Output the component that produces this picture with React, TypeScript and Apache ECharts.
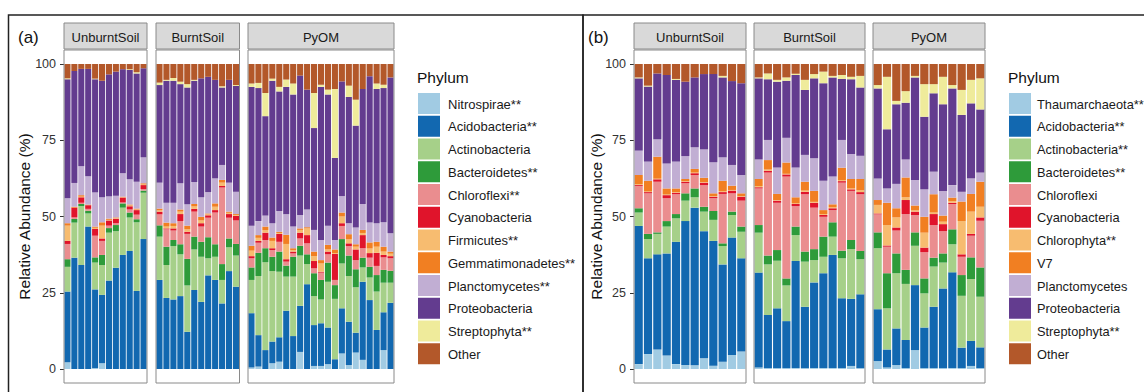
import React, { useEffect, useRef } from "react";
import * as echarts from "echarts";

// ---------- names ----------
const phylaA = [
  "Nitrospirae**", "Acidobacteria**", "Actinobacteria", "Bacteroidetes**", "Chloroflexi**", "Cyanobacteria",
  "Firmicutes**", "Gemmatimonadetes**", "Planctomycetes**", "Proteobacteria", "Streptophyta**", "Other",
];
const phylaB = [
  "Thaumarchaeota**", "Acidobacteria**", "Actinobacteria**", "Bacteroidetes**", "Chloroflexi", "Cyanobacteria",
  "Chlorophyta**", "V7", "Planctomycetes", "Proteobacteria", "Streptophyta**", "Other",
];
const facetNames = ["UnburntSoil", "BurntSoil", "PyOM"];
const yTicks = [0, 25, 50, 75, 100];

// ---------- data: one row per sample (bar), values in phylum order ----------
const aUnburnt = [
  [2.2, 23.2, 8.1, 2.5, 5.0, 1.0, 5.0, 0.8, 8.2, 39.0, 0.3, 4.7],
  [0, 36.5, 11.5, 1.2, 0.5, 3.2, 0, 0.3, 7.8, 36.7, 0, 2.3],
  [0, 34.1, 19.3, 0.7, 0.4, 1.8, 0.2, 0.5, 9.5, 31.9, 0, 1.6],
  [0, 46.7, 4.3, 0.9, 0.6, 1.2, 0, 0.2, 9.3, 35.2, 0, 1.6],
  [0.3, 25.8, 8.8, 1.7, 7.1, 2.2, 0.4, 0.4, 11.2, 37.1, 0.2, 4.8],
  [1.9, 22.4, 9.8, 3.3, 4.6, 0.8, 4.2, 1.1, 8.2, 38.2, 0, 5.5],
  [0, 29.0, 15.7, 1.5, 0.8, 1.7, 0.2, 0.4, 7.3, 40.0, 0, 3.4],
  [0, 33.2, 12.0, 2.0, 0.6, 1.5, 0.2, 0.2, 7.1, 40.7, 0, 2.5],
  [0, 37.4, 15.5, 1.4, 0.3, 1.6, 0.1, 0.2, 7.7, 34.1, 0, 1.7],
  [0, 38.7, 11.0, 1.6, 1.0, 1.1, 0.2, 0.3, 8.3, 35.8, 0.3, 1.7],
  [0, 25.6, 22.5, 1.0, 1.5, 1.5, 0.2, 0.3, 8.8, 35.5, 0.4, 2.7],
  [0, 42.6, 15.2, 0.7, 0.5, 1.3, 0.2, 0.4, 8.5, 29.2, 0, 1.4],
];
const aBurnt = [
  [0, 29.2, 14.2, 3.7, 3.6, 0.9, 0.4, 0.6, 8.5, 32.0, 0.8, 6.1],
  [0, 23.3, 10.8, 6.0, 5.7, 0.3, 0.6, 1.3, 6.5, 40.0, 0.3, 5.2],
  [0, 22.8, 17.5, 2.0, 3.1, 0.7, 0.8, 0.9, 6.7, 40.0, 0.9, 4.6],
  [0, 23.9, 13.7, 3.3, 7.6, 2.3, 0.8, 0.7, 8.6, 32.5, 0.8, 5.8],
  [0, 12.2, 15.2, 8.7, 8.2, 0.7, 0.8, 1.2, 7.0, 38.3, 1.1, 6.6],
  [0, 25.9, 13.3, 4.2, 8.2, 0.9, 0.8, 0.8, 7.2, 33.2, 0.3, 5.2],
  [0, 22.0, 14.8, 4.9, 5.0, 1.1, 0.9, 1.2, 6.4, 39.0, 0, 4.7],
  [0, 30.7, 5.6, 6.9, 6.4, 0.8, 0.3, 0.3, 7.0, 37.8, 0, 4.2],
  [0, 29.2, 7.6, 4.1, 10.4, 0.8, 1.1, 1.1, 8.2, 32.3, 0, 5.2],
  [0, 21.5, 7.7, 5.2, 25.1, 0.5, 1.1, 0.9, 4.9, 25.4, 0.4, 7.3],
  [0, 32.1, 7.8, 2.9, 6.8, 1.2, 0.4, 0.4, 9.5, 33.7, 0, 5.2],
  [0, 27.0, 10.2, 3.8, 7.7, 1.5, 0.3, 0.3, 7.3, 34.7, 0.3, 6.9],
];
const aPyOM = [
  [0.5, 17.8, 10.9, 4.1, 3.0, 0.7, 1.8, 1.6, 6.6, 45.5, 1.1, 6.4],
  [0.8, 10.3, 19.4, 7.6, 3.3, 0.6, 1.0, 0.9, 4.6, 43.6, 1.7, 6.2],
  [0, 6.2, 28.8, 4.6, 2.7, 2.4, 0.8, 1.2, 3.6, 32.6, 7.6, 9.5],
  [1.9, 7.1, 23.1, 4.7, 2.2, 0.6, 2.4, 1.1, 4.7, 46.7, 0.7, 4.8],
  [2.4, 8.0, 21.5, 6.6, 3.2, 2.6, 0.3, 0.4, 6.8, 39.2, 1.5, 7.5],
  [0, 19.1, 11.2, 3.6, 1.3, 0.8, 5.0, 3.0, 6.7, 41.8, 2.4, 5.1],
  [0, 10.8, 19.5, 6.5, 1.1, 0.6, 0.5, 0.6, 7.1, 43.3, 3.6, 6.4],
  [5.6, 15.1, 16.5, 3.2, 2.4, 1.9, 0.9, 0.5, 4.4, 45.7, 0, 3.8],
  [0, 27.8, 6.6, 3.2, 3.6, 2.7, 2.2, 0.4, 5.8, 39.3, 0, 8.4],
  [1.0, 13.4, 9.5, 7.5, 1.6, 2.4, 1.6, 1.5, 7.1, 33.4, 11.5, 9.5],
  [1.0, 14.0, 7.8, 6.4, 2.4, 0.3, 2.7, 1.1, 6.6, 50.2, 0.7, 6.8],
  [1.6, 12.0, 15.0, 6.3, 2.7, 0.9, 0.7, 1.5, 6.3, 43.0, 1.6, 8.4],
  [0, 3.2, 19.8, 4.5, 1.7, 8.5, 0.3, 1.2, 3.1, 26.9, 22.6, 8.2],
  [5.1, 14.8, 14.7, 8.0, 4.3, 0.9, 2.2, 1.3, 5.4, 37.6, 0, 5.7],
  [1.3, 14.2, 15.0, 6.7, 3.1, 0.9, 1.3, 1.7, 3.6, 41.4, 3.7, 7.1],
  [5.4, 6.5, 14.9, 5.9, 3.0, 3.5, 0.9, 0.8, 5.5, 33.4, 8.5, 11.7],
  [3.0, 25.6, 4.7, 3.2, 3.1, 4.3, 0.7, 1.0, 8.5, 37.7, 0, 8.2],
  [0, 22.6, 7.4, 3.5, 3.0, 1.5, 1.5, 2.0, 6.5, 48.0, 0, 4.0],
  [0, 12.8, 12.6, 5.4, 3.0, 4.3, 2.0, 1.6, 6.1, 44.0, 1.8, 6.4],
  [6.2, 12.4, 9.7, 4.2, 4.1, 0.8, 1.1, 1.6, 8.0, 44.0, 1.1, 6.8],
  [0, 21.7, 6.6, 3.9, 4.1, 0.7, 0.8, 0.7, 6.0, 51.1, 0, 4.4],
];
const bUnburnt = [
  [1.6, 45.3, 4.4, 1.4, 7.3, 0.3, 0.3, 3.0, 8.0, 23.7, 0.3, 4.4],
  [4.9, 31.4, 6.3, 1.7, 13.3, 0.4, 0.2, 3.5, 6.3, 24.6, 0.3, 7.1],
  [6.4, 31.2, 6.7, 0.5, 16.6, 0.8, 0.2, 7.2, 5.7, 21.6, 0, 3.1],
  [4.4, 33.5, 8.8, 1.8, 7.5, 1.0, 0.2, 2.0, 8.2, 29.0, 0, 3.6],
  [1.6, 40.1, 7.7, 1.4, 6.5, 0.5, 0.2, 1.2, 8.8, 26.8, 0.3, 4.9],
  [1.3, 47.2, 6.7, 2.4, 3.3, 0.5, 0.2, 0.7, 7.5, 24.4, 0, 5.8],
  [1.2, 51.7, 3.4, 2.9, 4.4, 0.6, 0.2, 1.2, 7.1, 22.9, 0, 4.4],
  [3.5, 41.7, 6.4, 1.6, 7.1, 0.8, 0.2, 1.4, 9.3, 24.7, 0, 3.3],
  [1.1, 40.9, 6.9, 2.9, 4.2, 0.5, 0.2, 0.9, 10.2, 28.9, 0, 3.3],
  [2.4, 31.9, 6.0, 0.9, 16.2, 0.6, 0.3, 3.4, 7.7, 26.2, 0.5, 3.9],
  [4.6, 38.5, 7.4, 1.1, 6.0, 0.9, 0.2, 1.4, 6.8, 27.5, 0, 5.6],
  [5.7, 30.6, 8.7, 1.7, 8.5, 1.3, 0.2, 0.9, 6.0, 30.1, 0, 6.3],
];
const bBurnt = [
  [0.5, 31.1, 13.1, 2.5, 12.0, 0.4, 0.4, 2.3, 6.4, 26.6, 0.3, 4.4],
  [0.3, 17.4, 16.6, 2.9, 27.2, 0.6, 0.4, 3.1, 6.6, 19.9, 1.9, 3.1],
  [0.3, 19.6, 15.6, 3.5, 15.5, 0.7, 0.2, 2.0, 8.7, 28.1, 0.6, 5.2],
  [0.3, 15.4, 11.7, 2.3, 33.4, 0.7, 0.2, 3.7, 8.1, 18.7, 1.1, 4.4],
  [0.3, 35.1, 8.5, 2.8, 6.7, 0.7, 0.2, 2.0, 9.8, 30.3, 0.4, 3.2],
  [0.3, 20.1, 14.8, 3.3, 18.8, 0.8, 0.4, 2.9, 8.8, 21.3, 3.3, 5.2],
  [0.3, 28.1, 7.3, 3.6, 13.6, 1.6, 0.3, 3.6, 10.7, 26.2, 1.4, 3.3],
  [0.3, 31.1, 5.4, 6.6, 6.5, 0.6, 0.3, 1.3, 9.6, 32.0, 3.8, 2.5],
  [0.3, 37.1, 6.0, 4.7, 4.0, 0.6, 0.3, 1.0, 9.1, 32.5, 0.5, 3.9],
  [0.3, 22.9, 13.1, 2.5, 22.3, 0.5, 0.3, 4.1, 9.1, 20.0, 1.3, 3.6],
  [1.0, 22.0, 16.3, 3.0, 16.1, 0.5, 0.3, 3.1, 8.2, 24.5, 0.8, 4.2],
  [0.3, 24.2, 11.5, 2.7, 18.6, 0.7, 0.6, 3.7, 7.6, 22.4, 3.8, 3.9],
];
const bPyOM = [
  [2.6, 17.0, 20.0, 5.2, 5.9, 0.3, 2.8, 1.6, 7.1, 29.5, 1.1, 6.9],
  [0.5, 5.9, 13.5, 11.5, 8.7, 0.4, 6.7, 7.3, 4.7, 19.4, 17.2, 4.2],
  [1.3, 12.0, 18.1, 6.5, 7.5, 1.0, 3.3, 3.0, 8.0, 26.1, 1.1, 12.1],
  [0.3, 9.2, 18.4, 4.6, 18.3, 4.6, 0.9, 6.5, 5.9, 18.6, 3.8, 8.9],
  [6.2, 21.3, 12.9, 4.4, 5.7, 1.1, 0.4, 1.6, 8.4, 33.6, 0.5, 3.9],
  [0.3, 13.3, 11.2, 4.9, 8.6, 1.5, 4.9, 5.2, 9.0, 23.8, 10.7, 6.6],
  [0.3, 20.1, 13.2, 2.9, 10.7, 3.6, 0.5, 6.0, 7.4, 25.7, 3.0, 6.6],
  [0.3, 26.1, 8.5, 3.0, 7.3, 2.3, 0.8, 2.0, 8.1, 28.4, 9.0, 4.2],
  [0.3, 31.4, 9.2, 4.9, 8.3, 0.4, 0.5, 1.2, 4.1, 31.7, 1.1, 6.9],
  [0.3, 6.7, 17.0, 6.8, 6.0, 0.8, 10.9, 6.4, 3.2, 25.2, 8.2, 8.5],
  [1.0, 8.2, 20.3, 7.1, 7.1, 0.6, 7.3, 5.8, 5.1, 24.6, 7.7, 5.2],
  [0.3, 6.8, 16.6, 9.6, 15.3, 1.1, 3.5, 8.2, 3.0, 20.7, 10.2, 4.7],
];

// ---------- styles / layout ----------
const palette = [
  "#A1CBE3", "#1268B0", "#A6D089", "#2E9B3A", "#EA8D8F", "#E0142B",
  "#F7BC70", "#F17F22", "#C1AED3", "#633C8F", "#EFEB9B", "#B3582A",
];
const FONT = "Liberation Sans, Arial, Helvetica, sans-serif";
const PLOT_TOP = 64;
const PLOT_H = 305;
const BOX_TOP = 50;
const BOX_BOTTOM = 383;
const STRIP_TOP = 23;
const STRIP_H = 26;

const panels = [
  {
    names: phylaA,
    rows: [aUnburnt, aBurnt, aPyOM],
    boxes: [[64, 83], [156, 83.5], [248, 146]],
    label: "(a)", labelX: 18, yTitleX: 24, legendX: 418, textOffset: 30, legendFont: 13,
  },
  {
    names: phylaB,
    rows: [bUnburnt, bBurnt, bPyOM],
    boxes: [[634, 112], [754, 111], [873, 112]],
    label: "(b)", labelX: 588, yTitleX: 596, legendX: 1009, textOffset: 28, legendFont: 12.8,
  },
];

export default function App() {
  const ref = useRef<HTMLDivElement>(null);

  useEffect(() => {
    const chart = echarts.init(ref.current!, null, { renderer: "svg" });
    const grid: any[] = [];
    const xAxis: any[] = [];
    const yAxis: any[] = [];
    const series: any[] = [];
    const graphic: any[] = [];

    // outer frames
    graphic.push({
      type: "rect", z: 20, silent: true,
      shape: { x: 8.5, y: 15, width: 574.5, height: 400 },
      style: { fill: "none", stroke: "#222", lineWidth: 1.5 },
    });
    graphic.push({
      type: "rect", z: 20, silent: true,
      shape: { x: 583, y: 15, width: 600, height: 400 },
      style: { fill: "none", stroke: "#222", lineWidth: 1.5 },
    });

    panels.forEach((p, pi) => {
      p.rows.forEach((rows, fi) => {
        const gi = pi * 3 + fi;
        const [left, width] = p.boxes[fi];
        grid.push({ left, top: PLOT_TOP, width, height: PLOT_H });
        xAxis.push({
          type: "category", gridIndex: gi, show: false,
          data: rows.map((_, i) => String(i + 1)),
        });
        yAxis.push({
          type: "value", gridIndex: gi, min: yTicks[0], max: yTicks[yTicks.length - 1], interval: 25,
          show: fi === 0,
          axisLine: { show: false },
          axisTick: { show: true, length: 4, lineStyle: { color: "#333", width: 1 } },
          axisLabel: { fontSize: 12.5, color: "#333", margin: 8, fontFamily: FONT },
          splitLine: { show: false },
        });
        p.names.forEach((name, k) => {
          series.push({
            type: "bar", name, stack: "s" + gi, xAxisIndex: gi, yAxisIndex: gi,
            barCategoryGap: "12%",
            data: rows.map((r) => r[k]),
            itemStyle: { color: palette[k] },
            emphasis: { disabled: true },
          });
        });
        // panel box
        graphic.push({
          type: "rect", z: 15, silent: true,
          shape: { x: left, y: BOX_TOP, width, height: BOX_BOTTOM - BOX_TOP },
          style: { fill: "none", stroke: "#8a8a8a", lineWidth: 1 },
        });
        // strip
        graphic.push({
          type: "rect", z: 15, silent: true,
          shape: { x: left, y: STRIP_TOP, width, height: STRIP_H },
          style: { fill: "#D9D9D9", stroke: "#8a8a8a", lineWidth: 1 },
        });
        graphic.push({
          type: "text", z: 16, silent: true,
          x: left + width / 2, y: STRIP_TOP + STRIP_H / 2 + 1,
          style: {
            text: facetNames[fi], fill: "#1a1a1a", font: `13px ${FONT}`,
            textAlign: "center", textVerticalAlign: "middle",
          },
        });
      });

      // panel label
      graphic.push({
        type: "text", z: 16, silent: true, x: p.labelX, y: 37,
        style: { text: p.label, fill: "#111", font: `17px ${FONT}`, textAlign: "left", textVerticalAlign: "middle" },
      });
      // y title
      graphic.push({
        type: "text", z: 16, silent: true, x: p.yTitleX, y: PLOT_TOP + PLOT_H / 2,
        rotation: Math.PI / 2,
        style: {
          text: "Relative Abundance (%)", fill: "#111", font: `15.5px ${FONT}`,
          textAlign: "center", textVerticalAlign: "middle",
        },
      });
      // legend
      graphic.push({
        type: "text", z: 16, silent: true, x: p.legendX - 1, y: 77,
        style: { text: "Phylum", fill: "#111", font: `15.5px ${FONT}`, textAlign: "left", textVerticalAlign: "middle" },
      });
      p.names.forEach((name, k) => {
        const y = 93 + k * 22.75;
        graphic.push({
          type: "rect", z: 16, silent: true,
          shape: { x: p.legendX, y, width: 22, height: 21 },
          style: { fill: palette[k] },
        });
        graphic.push({
          type: "text", z: 16, silent: true, x: p.legendX + p.textOffset, y: y + 11,
          style: {
            text: name, fill: "#1a1a1a", font: `${p.legendFont}px ${FONT}`,
            textAlign: "left", textVerticalAlign: "middle",
          },
        });
      });
    });

    chart.setOption({
      animation: false,
      backgroundColor: "#ffffff",
      textStyle: { fontFamily: FONT },
      grid, xAxis, yAxis, series, graphic,
      tooltip: { show: false },
    });
    return () => chart.dispose();
  }, []);

  return (
    <div
      ref={ref}
      style={{ position: "absolute", left: 0, top: 0, width: 1144, height: 392, background: "#fff" }}
    />
  );
}
